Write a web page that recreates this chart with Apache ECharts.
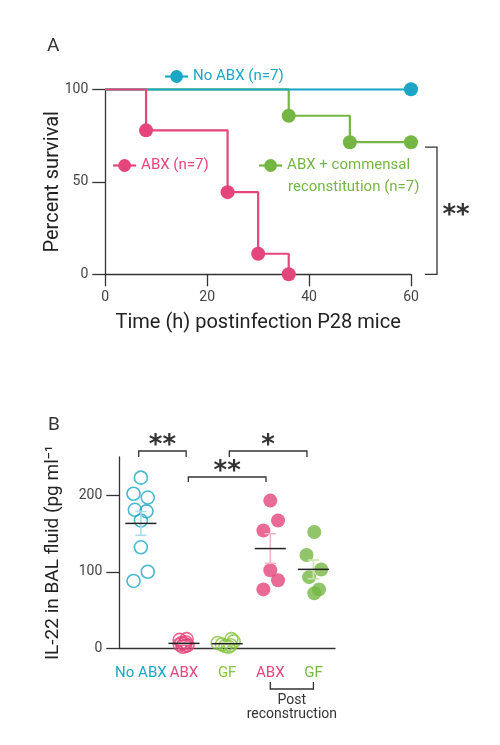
<!DOCTYPE html>
<html>
<head>
<meta charset="utf-8">
<script src="https://cdn.jsdelivr.net/npm/echarts@6/dist/echarts.min.js"></script>
<style>
html, body { margin: 0; padding: 0; background: #fff; }
#chart { width: 500px; height: 745px; }
</style>
</head>
<body>
<div id="chart"></div>
<script>
// A: survival after infection
var hoursNoAbx = [0, 60];
var survNoAbx = [100, 100];
var hoursAbx = [0, 8, 24, 30, 36];
var survAbx = [100, 77.8, 44.4, 11.1, 0];
var hoursRecon = [0, 36, 48, 60];
var survRecon = [100, 85.7, 71.4, 71.4];

// B: IL-22 per mouse (spread = sideways offset inside a group, in group units)
var groups = ['No ABX', 'ABX', 'GF', 'ABX', 'GF'];
var il22NoAbx = [223, 202, 197, 181, 179, 167, 132, 100, 88];
var spreadNoAbx = [0, -0.17, 0.16, -0.14, 0.13, 0, 0, 0.16, -0.17];
var il22Abx = [11, 12, 7, 8, 5, 4, 6, 2, 3];
var spreadAbx = [-0.1, 0.06, -0.05, 0.04, -0.1, 0.08, 0, -0.03, 0.03];
var il22Gf = [7, 5, 3, 2, 4, 12, 9];
var spreadGf = [-0.22, -0.12, -0.04, 0.03, 0.08, 0.1, 0.15];
var il22AbxPost = [193, 167, 154, 102, 89, 77];
var spreadAbxPost = [0, 0.18, -0.16, 0, 0.18, -0.16];
var il22GfPost = [152, 122, 103, 93, 77, 72];
var spreadGfPost = [0.02, -0.16, 0.18, -0.1, 0.13, 0.02];

var TEAL = '#1ba6c5', PINK = '#e4457a', GREEN = '#74b644', LIME = '#86c440';
var DARK = '#333';
var FONT = 'Roboto';

var groupColors = [TEAL, PINK, LIME, PINK, GREEN];
var barColors = ['#a9dcea', '#f5b4c8', '#cde6b0', '#f5b4c8', '#c8e4a8'];

function km(hours, surv) {
    return hours.map(function (h, i) {
        return i === 0 ? { value: [h, surv[i]], symbol: 'none' } : [h, surv[i]];
    });
}
function dots(idx, vals, spread) {
    return vals.map(function (v, i) { return [idx + spread[i], v]; });
}
function mean(a) {
    return a.reduce(function (s, v) { return s + v; }, 0) / a.length;
}
function sem(a) {
    var m = mean(a);
    var ss = a.reduce(function (s, v) { return s + (v - m) * (v - m); }, 0);
    return Math.sqrt(ss / (a.length - 1)) / Math.sqrt(a.length);
}

var allGroups = [il22NoAbx, il22Abx, il22Gf, il22AbxPost, il22GfPost];
var summary = allGroups.map(function (a, i) { return [i, mean(a), sem(a)]; });

var myChart = echarts.init(document.getElementById('chart'));

var axisLine = { lineStyle: { color: DARK, width: 1.3 } };
var tickLabel = { color: '#444', fontSize: 14, fontFamily: FONT };

function lineSeries(name, hours, surv, color) {
    return {
        name: name,
        type: 'line',
        xAxisIndex: 0,
        yAxisIndex: 0,
        step: 'end',
        data: km(hours, surv),
        symbol: 'circle',
        symbolSize: 14,
        lineStyle: { color: color, width: 2.2 },
        itemStyle: { color: color },
        emphasis: { disabled: true },
        animation: false
    };
}
function dotSeries(idx, vals, spread, hollow) {
    var c = groupColors[idx];
    return {
        type: 'scatter',
        xAxisIndex: 2,
        yAxisIndex: 1,
        data: dots(idx, vals, spread),
        symbolSize: hollow ? 13 : 14,
        itemStyle: hollow
            ? { color: 'rgba(255,255,255,0)', borderColor: c, borderWidth: 1.6 }
            : { color: c },
        animation: false
    };
}

var legendBase = {
    selectedMode: false,
    itemWidth: 23,
    itemHeight: 16,
    padding: 0,
    lineStyle: { width: 2.2 }
};

var option = {
    backgroundColor: '#fff',
    grid: [
        { left: 105.3, top: 89.3, width: 305.7, height: 185 },
        { left: 119.3, top: 457, width: 215.7, height: 191.3 }
    ],
    legend: [
        Object.assign({}, legendBase, {
            data: ['No ABX (n=7)'], left: 164, top: 69,
            textStyle: { color: TEAL, fontSize: 15, fontFamily: FONT }
        }),
        Object.assign({}, legendBase, {
            data: ['ABX (n=7)'], left: 112, top: 158,
            textStyle: { color: PINK, fontSize: 15, fontFamily: FONT }
        }),
        Object.assign({}, legendBase, {
            data: ['ABX + commensal reconstitution (n=7)'], left: 258, top: 158,
            formatter: function () { return 'ABX + commensal'; },
            textStyle: { color: GREEN, fontSize: 15, fontFamily: FONT }
        })
    ],
    xAxis: [
        {
            type: 'value', gridIndex: 0, min: 0, max: 60, interval: 20,
            axisLine: Object.assign({ onZero: false }, axisLine),
            axisTick: { length: 12, lineStyle: { color: DARK, width: 1.3 } },
            axisLabel: Object.assign({ margin: 16 }, tickLabel),
            splitLine: { show: false },
            name: 'Time (h) postinfection P28 mice',
            nameLocation: 'middle', nameGap: 39, nameMoveOverlap: false,
            nameTextStyle: { color: '#222', fontSize: 20, fontFamily: FONT }
        },
        {
            type: 'category', gridIndex: 1, data: groups, boundaryGap: true,
            axisLine: Object.assign({ onZero: false }, axisLine),
            axisTick: { alignWithLabel: true, length: 12, lineStyle: { color: DARK, width: 1.3 } },
            axisLabel: {
                interval: 0, margin: 17, fontSize: 15, fontFamily: FONT,
                color: function (v, i) { return groupColors[i]; }
            }
        },
        { type: 'value', gridIndex: 1, min: -0.5, max: 4.5, show: false }
    ],
    yAxis: [
        {
            type: 'value', gridIndex: 0, min: 0, max: 100, interval: 50,
            axisLine: Object.assign({ show: true, onZero: false }, axisLine),
            axisTick: { show: true, length: 13, lineStyle: { color: DARK, width: 1.3 } },
            axisLabel: Object.assign({ margin: 17 }, tickLabel),
            splitLine: { show: false },
            name: 'Percent survival',
            nameLocation: 'middle', nameGap: 42, nameMoveOverlap: false,
            nameTextStyle: { color: '#222', fontSize: 20, fontFamily: FONT }
        },
        {
            type: 'value', gridIndex: 1, min: 0, max: 250,
            axisLine: Object.assign({ show: true, onZero: false }, axisLine),
            axisTick: { show: true, length: 13, customValues: [0, 100, 200], lineStyle: { color: DARK, width: 1.3 } },
            axisLabel: Object.assign({ margin: 17, customValues: [0, 100, 200] }, tickLabel),
            splitLine: { show: false },
            name: 'IL-22 in BAL fluid (pg ml\u207B\u00B9',
            nameLocation: 'middle', nameGap: 57, nameMoveOverlap: false,
            nameTextStyle: { color: '#222', fontSize: 19, fontFamily: FONT }
        }
    ],
    series: [
        lineSeries('ABX + commensal reconstitution (n=7)', hoursRecon, survRecon, GREEN),
        lineSeries('No ABX (n=7)', hoursNoAbx, survNoAbx, TEAL),
        lineSeries('ABX (n=7)', hoursAbx, survAbx, PINK),
        dotSeries(0, il22NoAbx, spreadNoAbx, true),
        dotSeries(1, il22Abx, spreadAbx, true),
        dotSeries(2, il22Gf, spreadGf, true),
        dotSeries(3, il22AbxPost, spreadAbxPost, false),
        dotSeries(4, il22GfPost, spreadGfPost, false),
        {
            // mean line with SEM bar
            type: 'custom',
            xAxisIndex: 2,
            yAxisIndex: 1,
            data: summary,
            z: 5,
            animation: false,
            renderItem: function (params, api) {
                var x = api.value(0), m = api.value(1), s = api.value(2);
                var hi = api.coord([x, m + s]), lo = api.coord([x, m - s]);
                var capL = api.coord([x - 0.13, 0])[0], capR = api.coord([x + 0.13, 0])[0];
                var ml = api.coord([x - 0.36, m]), mr = api.coord([x + 0.36, m]);
                var bc = barColors[params.dataIndex];
                return {
                    type: 'group',
                    children: [
                        { type: 'line', shape: { x1: hi[0], y1: hi[1], x2: lo[0], y2: lo[1] }, style: { stroke: bc, lineWidth: 1.6 } },
                        { type: 'line', shape: { x1: capL, y1: hi[1], x2: capR, y2: hi[1] }, style: { stroke: bc, lineWidth: 1.6 } },
                        { type: 'line', shape: { x1: capL, y1: lo[1], x2: capR, y2: lo[1] }, style: { stroke: bc, lineWidth: 1.6 } },
                        { type: 'line', shape: { x1: ml[0], y1: ml[1], x2: mr[0], y2: mr[1] }, style: { stroke: '#222', lineWidth: 1.5 } }
                    ]
                };
            }
        }
    ]
};

myChart.setOption(option);

// significance brackets and panel letters
function px(axisIdx, yIdx, p) {
    return myChart.convertToPixel({ xAxisIndex: axisIdx, yAxisIndex: yIdx }, p);
}
var bracketStyle = { stroke: DARK, lineWidth: 1.3, fill: null };
var starStyle = { fill: DARK, fontSize: 26, fontWeight: 'bold', fontFamily: 'DejaVu Sans', align: 'center', verticalAlign: 'middle' };
var noteStyle = { fill: DARK, fontSize: 14, fontFamily: FONT, align: 'center', verticalAlign: 'middle' };

var aTop = px(0, 0, [60, survRecon[survRecon.length - 1]]);
var aBot = px(0, 0, [60, 0]);
var bx = function (v) { return px(2, 1, [v, 0])[0]; };

function bracketDown(x1, x2, y, drop) {
    return { type: 'polyline', shape: { points: [[x1, y + drop], [x1, y], [x2, y], [x2, y + drop]] }, style: bracketStyle };
}

var graphics = [
    { type: 'text', left: 47, top: 37, style: { text: 'A', fontSize: 19, fill: DARK, fontFamily: FONT } },
    { type: 'text', left: 48, top: 416, style: { text: 'B', fontSize: 19, fill: DARK, fontFamily: FONT } },
    // second line of the green legend entry
    { type: 'text', left: 288, top: 180, style: { text: 'reconstitution (n=7)', fill: GREEN, fontSize: 15, fontFamily: FONT } },
    { type: 'polyline', shape: { points: [[aTop[0] + 14, aTop[1] + 5], [aTop[0] + 26, aTop[1] + 5], [aTop[0] + 26, aBot[1]], [aTop[0] + 14, aBot[1]]] }, style: bracketStyle },
    { type: 'text', x: aTop[0] + 45, y: 216, style: Object.assign({ text: '**' }, starStyle) },
    bracketDown(bx(-0.05), bx(1.05), 451, 6),
    { type: 'text', x: bx(0.5), y: 446, style: Object.assign({ text: '**' }, starStyle) },
    bracketDown(bx(1.1), bx(2.9), 477, 5),
    { type: 'text', x: bx(2), y: 472, style: Object.assign({ text: '**' }, starStyle) },
    bracketDown(bx(2.05), bx(3.85), 451, 6),
    { type: 'text', x: bx(2.95), y: 446, style: Object.assign({ text: '*' }, starStyle) },
    { type: 'polyline', shape: { points: [[bx(3), 682], [bx(3), 689], [bx(4), 689], [bx(4), 682]] }, style: bracketStyle },
    { type: 'text', x: bx(3.5), y: 700, style: Object.assign({ text: 'Post' }, noteStyle) },
    { type: 'text', x: bx(3.5), y: 714, style: Object.assign({ text: 'reconstruction' }, noteStyle) }
];
myChart.setOption({ graphic: graphics });
</script>
</body>
</html>
